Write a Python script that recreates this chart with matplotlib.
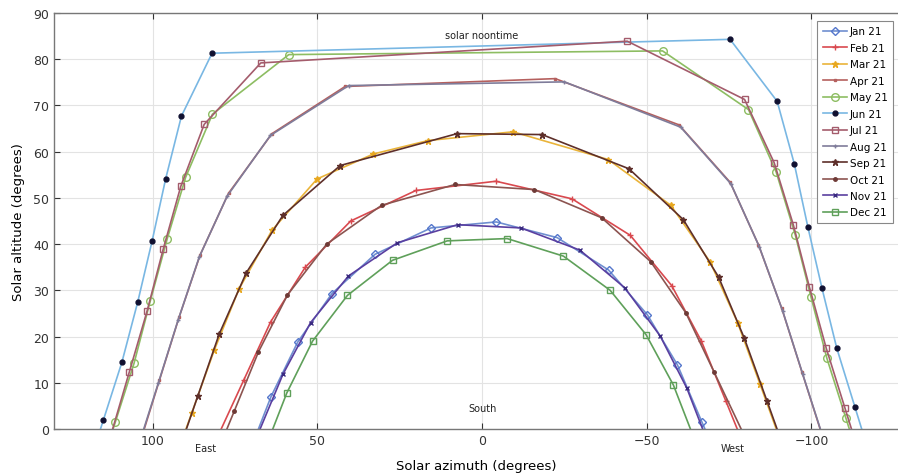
import matplotlib
matplotlib.use("Agg")
import matplotlib.pyplot as plt

# ---- data (azimuth deg, altitude deg) ----
jan_az = [70.1, 64.1, 56.0, 45.6, 32.5, 15.5, -4.3, -22.8, -38.4, -50.2, -59.3, -66.7, -73.7]
jan_alt = [-4.0, 7.0, 18.8, 29.3, 37.8, 43.5, 44.8, 41.4, 34.4, 24.7, 13.9, 1.6, -10.0]

feb_az = [80.2, 72.3, 64.2, 53.7, 39.9, 20.1, -4.2, -27.3, -45.0, -57.6, -66.6, -74.0, -81.2]
feb_alt = [-1.5, 10.7, 23.2, 35.0, 45.0, 51.6, 53.6, 49.8, 41.9, 31.0, 19.0, 6.1, -6.5]

mar_az = [95.0, 88.2, 81.3, 73.8, 63.8, 50.1, 33.0, 16.4, -9.4, -38.3, -57.3, -69.2, -77.6, -84.4, -91.1]
mar_alt = [-10.0, 3.4, 17.1, 30.3, 43.0, 54.1, 59.5, 62.4, 64.3, 58.3, 48.4, 36.2, 23.0, 9.7, -3.5]

apr_az = [103.9, 98.0, 92.0, 85.6, 77.0, 63.8, 41.6, -22.2, -59.8, -75.3, -83.9, -91.0, -97.1, -103.1]
apr_alt = [-3.0, 10.5, 24.2, 37.7, 51.0, 63.9, 74.1, 75.8, 65.8, 53.4, 39.9, 26.1, 12.4, -1.0]

may_az = [117.0, 111.4, 105.7, 100.8, 95.6, 90.0, 81.9, 58.7, -54.8, -80.9, -89.3, -95.1, -99.9, -104.7, -110.5, -116.4]
may_alt = [-11.0, 1.45, 14.2, 27.6, 41.2, 54.5, 68.1, 81.0, 81.8, 69.1, 55.6, 42.0, 28.5, 15.3, 2.3, -11.0]

jun_az = [120.4, 115.0, 109.4, 104.6, 100.2, 96.1, 91.3, 82.0, -75.3, -89.6, -94.8, -98.9, -103.2, -107.7, -113.2, -119.6]
jun_alt = [-10.0, 1.95, 14.4, 27.4, 40.7, 54.1, 67.7, 81.3, 84.3, 70.9, 57.4, 43.8, 30.5, 17.5, 4.8, -10.0]

jul_az = [112.6, 107.1, 101.7, 96.8, 91.5, 84.4, 67.2, -44.1, -79.7, -88.7, -94.5, -99.4, -104.5, -110.2, -115.9]
jul_alt = [-1.0, 12.4, 25.6, 39.0, 52.5, 65.9, 79.2, 83.9, 71.3, 57.6, 44.2, 30.7, 17.5, 4.5, -8.5]

aug_az = [104.3, 98.3, 92.3, 85.9, 77.4, 64.3, 40.5, -25.0, -60.3, -75.6, -84.2, -91.3, -97.4, -103.4]
aug_alt = [-3.5, 10.0, 23.6, 37.2, 50.4, 63.5, 74.3, 75.1, 65.3, 53.0, 39.4, 25.5, 11.8, -1.5]

sep_az = [92.7, 86.3, 79.8, 71.6, 60.5, 43.1, 7.6, -18.2, -44.6, -61.1, -71.8, -79.6, -86.5, -93.1]
sep_alt = [-6.0, 7.2, 20.6, 33.8, 46.2, 57.0, 63.9, 63.7, 56.3, 45.3, 32.9, 19.7, 6.1, -7.0]

oct_az = [82.4, 75.3, 67.9, 59.1, 47.2, 30.5, 8.2, -15.9, -36.3, -51.2, -61.9, -70.4, -79.0]
oct_alt = [-8.5, 3.8, 16.7, 29.0, 40.0, 48.4, 52.9, 51.8, 45.7, 36.2, 25.1, 12.4, -0.5]

nov_az = [68.0, 60.5, 52.1, 40.6, 25.7, 7.4, -11.8, -29.7, -43.4, -54.1, -62.2, -68.6]
nov_alt = [-1.0, 11.8, 23.0, 33.1, 40.3, 44.2, 43.5, 38.7, 30.5, 20.1, 8.8, -3.0]

dec_az = [65.2, 59.3, 51.5, 40.9, 27.2, 10.6, -7.6, -24.7, -38.9, -49.8, -58.1, -64.9]
dec_alt = [-3.0, 7.8, 19.0, 28.9, 36.5, 40.7, 41.2, 37.4, 30.0, 20.4, 9.5, -3.0]

labels = ["Jan 21", "Feb 21", "Mar 21", "Apr 21", "May 21", "Jun 21",
          "Jul 21", "Aug 21", "Sep 21", "Oct 21", "Nov 21", "Dec 21"]
x_ticks = [100, 50, 0, -50, -100]
y_ticks = [0, 10, 20, 30, 40, 50, 60, 70, 80, 90]

series = [(jan_az, jan_alt), (feb_az, feb_alt), (mar_az, mar_alt), (apr_az, apr_alt),
          (may_az, may_alt), (jun_az, jun_alt), (jul_az, jul_alt), (aug_az, aug_alt),
          (sep_az, sep_alt), (oct_az, oct_alt), (nov_az, nov_alt), (dec_az, dec_alt)]

# style per series: (line colour, marker, marker face, marker edge, marker size)
styles = [
    ("#6f8fd0", "D", "none", "#5577cc", 4.0),
    ("#d9494f", "+", "#d9494f", "#d9494f", 5.0),
    ("#eab43a", "*", "#e8a820", "#e8a820", 5.0),
    ("#b5605e", "s", "#b5605e", "#b5605e", 2.0),
    ("#8dbd62", "o", "none", "#8dbd62", 5.5),
    ("#79b7e3", "o", "#101030", "#101030", 3.5),
    ("#a45c6c", "s", "none", "#a45c6c", 4.5),
    ("#7f7c9a", "+", "#7f7c9a", "#7f7c9a", 3.0),
    ("#5e2f2a", "*", "#5e2f2a", "#5e2f2a", 5.0),
    ("#8c5450", "o", "#6e3a36", "#6e3a36", 2.5),
    ("#5a3fa0", "x", "#5a3fa0", "#3a2a80", 3.5),
    ("#5fa05a", "s", "none", "#5fa05a", 4.5),
]

fig = plt.figure(figsize=(8.98, 4.77), dpi=100)
ax = fig.add_axes([54 / 898, 47 / 477, 844 / 898, 416 / 477])

for (az, alt), lab, (c, m, mfc, mec, ms) in zip(series, labels, styles):
    ax.plot(az, alt, color=c, lw=1.2, marker=m, markerfacecolor=mfc,
            markeredgecolor=mec, markersize=ms, markeredgewidth=1.0, label=lab)

ax.set_xlim(130, -126.3)
ax.set_ylim(0, 90)
ax.set_xticks(x_ticks)
ax.set_yticks(y_ticks)
ax.grid(True, color="#e3e3e3", lw=0.8)
ax.set_axisbelow(True)
ax.tick_params(direction="in", top=True, right=False, labelsize=9,
               colors="#333333", length=4)
ax.spines["right"].set_visible(False)
for s in ax.spines.values():
    s.set_color("#777777")
    s.set_linewidth(1.0)

ax.set_xlabel("Solar azimuth (degrees)", fontsize=9.5, labelpad=9)
ax.set_ylabel("Solar altitude (degrees)", fontsize=9.5, labelpad=6)

ax.text(0, 85.3, "solar noontime", fontsize=7, ha="center", va="center", color="#222222")
ax.text(0, 4.6, "South", fontsize=7, ha="center", va="center", color="#222222")
ax.text(84, -4.2, "East", fontsize=7, ha="center", va="center", color="#222222", clip_on=False)
ax.text(-76, -4.2, "West", fontsize=7, ha="center", va="center", color="#222222", clip_on=False)

leg = ax.legend(loc="upper right", bbox_to_anchor=(1.0, (477 - 17 - 47) / 416),
                fontsize=7.5, labelspacing=0.62, handlelength=2.3, handletextpad=0.3,
                borderpad=0.5, fancybox=False, framealpha=1.0, edgecolor="#888888")
leg.get_frame().set_linewidth(0.8)

fig.savefig("out.png", dpi=100)
